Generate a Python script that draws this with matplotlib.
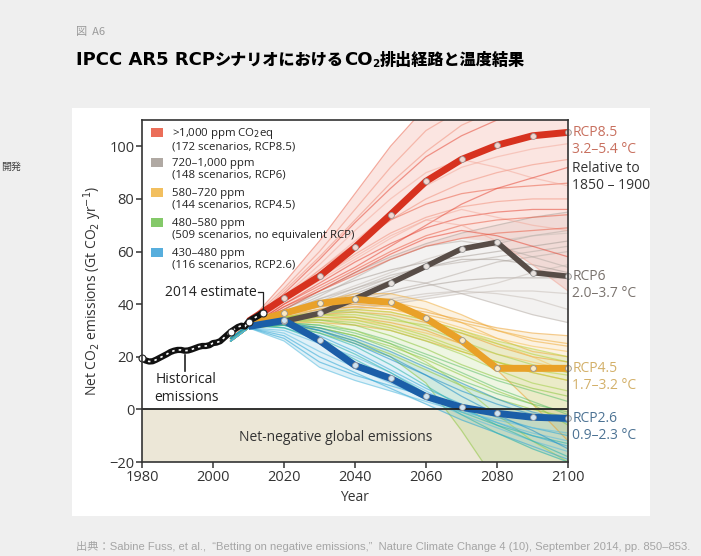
import matplotlib.pyplot as plt
from matplotlib.patches import Rectangle
import numpy as np

plt.rcParams['font.family'] = ['Open Sans', 'Noto Sans CJK JP', 'DejaVu Sans']

# historical emissions (Gt CO2 / yr)
hist_years = list(range(1980, 2015))
hist_values = [19.4, 18.6, 18.2, 18.3, 18.9, 19.6, 20.3, 21.0, 21.8, 22.3,
               22.6, 22.6, 22.3, 22.4, 22.8, 23.3, 23.8, 24.1, 24.1, 24.4,
               25.2, 25.4, 25.9, 27.1, 28.3, 29.5, 30.4, 31.3, 31.8, 31.5,
               33.3, 34.3, 35.0, 35.8, 36.8]
hist_marks = [1980, 2005, 2010, 2014]

# RCP pathways
rcp_years = [2010, 2020, 2030, 2040, 2050, 2060, 2070, 2080, 2090, 2100]
rcp85 = [33.5, 42.2, 50.6, 61.6, 74.0, 86.7, 95.0, 100.4, 104.0, 105.3]
rcp6 = [32.5, 33.5, 36.5, 42.0, 48.0, 54.4, 61.0, 63.5, 52.0, 50.6]
rcp45 = [33.0, 36.5, 40.3, 41.8, 40.7, 34.6, 26.2, 15.6, 15.6, 15.6]
rcp26 = [31.5, 33.8, 26.2, 16.7, 11.8, 4.9, 0.8, -1.5, -3.0, -3.4]

# individual scenarios per concentration category
scen_years = [2005, 2010, 2020, 2030, 2040, 2050, 2060, 2070, 2080, 2090, 2100]
scen_red = [
    [28, 33, 48, 64, 82, 100, 115, 125, 130, 133, 135],
    [28, 33, 46, 60, 76, 92, 106, 114, 118, 120, 121],
    [27, 32, 44, 57, 71, 84, 96, 104, 110, 112, 113],
    [27, 32, 43, 53, 64, 75, 85, 92, 96, 99, 101],
    [27, 32, 42, 52, 62, 72, 78, 82, 84, 85, 86],
    [26, 31, 41, 50, 59, 67, 73, 77, 79, 80, 80],
    [26, 31, 40, 48, 56, 63, 69, 73, 75, 76, 76],
    [27, 32, 41, 49, 57, 65, 72, 76, 73, 70, 68],
    [26, 31, 39, 46, 53, 60, 66, 70, 72, 73, 74],
    [27, 32, 42, 53, 63, 72, 80, 86, 90, 93, 95],
    [26, 31, 39, 45, 52, 59, 65, 68, 66, 62, 58],
    [27, 32, 43, 55, 68, 80, 90, 95, 92, 88, 85],
    [26, 31, 38, 45, 51, 57, 62, 65, 67, 68, 69],
    [27, 32, 45, 58, 72, 86, 98, 108, 114, 118, 120],
    [26, 31, 40, 47, 54, 62, 70, 78, 84, 88, 92],
    [27, 32, 41, 50, 58, 66, 72, 70, 64, 55, 45],
]
scen_gray = [
    [27, 32, 36, 40, 45, 50, 55, 60, 63, 66, 68],
    [27, 32, 37, 42, 47, 52, 57, 61, 64, 66, 67],
    [27, 32, 35, 38, 41, 44, 47, 49, 50, 50, 50],
    [27, 32, 37, 43, 50, 57, 62, 64, 62, 58, 54],
    [26, 31, 34, 36, 38, 40, 42, 44, 45, 45, 44],
    [27, 32, 38, 45, 52, 58, 63, 67, 70, 73, 75],
    [27, 32, 36, 39, 42, 45, 48, 52, 56, 58, 60],
    [26, 31, 34, 37, 39, 41, 43, 45, 48, 52, 55],
    [27, 32, 36, 40, 44, 49, 54, 57, 57, 55, 52],
    [27, 32, 37, 41, 46, 51, 54, 56, 58, 60, 62],
    [26, 31, 35, 37, 40, 42, 44, 45, 44, 42, 38],
    [27, 32, 38, 44, 49, 53, 56, 58, 60, 62, 64],
    [27, 32, 37, 42, 46, 50, 48, 44, 40, 36, 33],
]
scen_orange = [
    [27, 32, 36, 40, 42, 41, 38, 33, 27, 22, 20],
    [27, 32, 35, 38, 39, 38, 35, 31, 27, 24, 22],
    [26, 31, 34, 36, 37, 36, 33, 29, 24, 20, 18],
    [27, 32, 37, 41, 44, 44, 41, 36, 30, 26, 24],
    [26, 31, 33, 34, 34, 32, 29, 25, 21, 18, 15],
    [27, 32, 36, 39, 40, 39, 37, 34, 31, 29, 28],
    [26, 31, 33, 33, 32, 30, 26, 22, 18, 14, 11],
    [27, 32, 35, 37, 38, 37, 34, 30, 25, 20, 14],
    [26, 31, 34, 35, 35, 33, 30, 25, 15, 2, -12],
    [27, 32, 36, 38, 39, 38, 36, 33, 30, 27, 25],
]
scen_green = [
    [27, 32, 34, 34, 32, 28, 23, 17, 12, 8, 5],
    [27, 32, 35, 36, 35, 32, 28, 23, 18, 14, 11],
    [26, 31, 33, 31, 28, 23, 17, 11, 6, 2, -1],
    [27, 32, 35, 37, 37, 35, 31, 26, 21, 17, 14],
    [26, 31, 32, 30, 26, 21, 15, 9, 4, 0, -3],
    [27, 32, 34, 35, 34, 31, 27, 22, 18, 15, 13],
    [26, 31, 33, 32, 30, 26, 21, 16, 11, 7, 3],
    [27, 32, 34, 33, 30, 25, 18, 9, -2, -12, -20],
    [26, 31, 32, 29, 25, 20, 10, -8, -28, -40, -50],
    [27, 32, 35, 36, 36, 34, 32, 29, 25, 21, 18],
    [26, 31, 33, 32, 29, 25, 20, 14, 8, 3, -2],
    [27, 32, 34, 34, 33, 30, 26, 21, 15, 10, 7],
    [26, 31, 32, 31, 28, 24, 19, 13, 7, 2, -6],
    [27, 32, 35, 37, 38, 37, 34, 30, 26, 23, 20],
]
scen_blue = [
    [27, 32, 32, 28, 22, 15, 8, 2, -3, -7, -10],
    [27, 32, 31, 26, 19, 12, 5, -1, -6, -10, -13],
    [26, 31, 29, 22, 16, 10, 4, -2, -7, -12, -16],
    [27, 32, 33, 30, 25, 19, 13, 7, 2, -2, -5],
    [26, 31, 27, 18, 13, 9, 5, 0, -5, -10, -14],
    [27, 32, 32, 29, 24, 17, 9, 1, -6, -12, -18],
    [26, 31, 30, 25, 20, 14, 7, 0, -5, -9, -12],
    [27, 32, 33, 31, 27, 22, 16, 10, 4, -1, -4],
    [26, 31, 28, 20, 14, 8, 2, -4, -9, -14, -19],
    [27, 32, 31, 27, 21, 14, 6, -2, -9, -15, -20],
    [26, 31, 26, 16, 11, 7, 3, -1, -4, -7, -9],
    [27, 32, 33, 30, 26, 20, 13, 5, -2, -8, -15],
]

legend_labels = [
    '>1,000 ppm CO$_2$eq\n(172 scenarios, RCP8.5)',
    '720–1,000 ppm\n(148 scenarios, RCP6)',
    '580–720 ppm\n(144 scenarios, RCP4.5)',
    '480–580 ppm\n(509 scenarios, no equivalent RCP)',
    '430–480 ppm\n(116 scenarios, RCP2.6)',
]
rcp_names = ['RCP8.5', 'RCP6', 'RCP4.5', 'RCP2.6']
rcp_temps = ['3.2–5.4 °C', '2.0–3.7 °C', '1.7–3.2 °C', '0.9–2.3 °C']

# title pieces: (text, family, size, subscript?)
LATIN = ['DejaVu Sans']
CJK = ['Noto Sans CJK JP', 'DejaVu Sans']
title_parts = [
    ('IPCC AR5 RCP', LATIN, 13, False),
    ('シナリオにおける', CJK, 11.6, False),
    ('CO', LATIN, 13, False),
    ('2', LATIN, 7.5, True),
    ('排出経路と温度結果', CJK, 11.6, False),
]

fig = plt.figure(figsize=(7.01, 5.56), dpi=100, facecolor='#efefef')

# white panel behind the chart
fig.patches.append(Rectangle((72 / 701, 1 - 516 / 556), 578 / 701, 408 / 556,
                             transform=fig.transFigure, facecolor='white',
                             edgecolor='none', zorder=0))

fig.text(76 / 701, 1 - 32 / 556, '図  A6', fontsize=8, color='#9a9a9a',
         va='center', family=CJK)

renderer = fig.canvas.get_renderer()
x_px = 76
for txt, fam, size, sub in title_parts:
    y_px = 64 if sub else 60
    t = fig.text(x_px / 701, 1 - y_px / 556, txt, fontsize=size,
                 fontweight='heavy', color='black', va='center', family=fam)
    x_px += t.get_window_extent(renderer).width

fig.text(1 / 701, 1 - 167 / 556, '開発', fontsize=7.2, color='#444444',
         ha='left', va='center', family=['Noto Sans CJK JP'])
fig.text(76 / 701, 1 - 547 / 556,
         '出典：Sabine Fuss, et al.,  “Betting on negative emissions,”  '
         'Nature Climate Change 4 (10), September 2014, pp. 850–853.',
         fontsize=8.1, color='#a5a5a5', va='center',
         family=['Liberation Sans', 'Noto Sans CJK JP'])

ax = fig.add_axes([142 / 701, 1 - 462 / 556, 426 / 701, 342 / 556])
ax.set_zorder(2)
ax.set_facecolor('white')
ax.set_xlim(1980, 2100)
ax.set_ylim(-20, 110)

# net-negative zone
ax.axhspan(-20, 0, color='#ece7d7', zorder=0)
ax.axhline(0, color='#222222', lw=1.3, zorder=6)
ax.text(2034.5, -10.5, 'Net-negative global emissions', ha='center',
        va='center', fontsize=10, color='#333333', zorder=7)

fans = [
    (scen_gray, ['#b3aaa3', '#c4bbb4', '#a39a93'], 0.5),
    (scen_red, ['#e8553c', '#f08a75', '#e43c2a', '#f3a798'], 0.5),
    (scen_orange, ['#f0ad3c', '#f5c258', '#eca02e'], 0.55),
    (scen_green, ['#8dc63f', '#b6d23c', '#5fbf6a', '#a3cf4a'], 0.55),
    (scen_blue, ['#2fa7d6', '#28b3a9', '#5bbde0', '#1f8fc8'], 0.55),
]
for rows, colors, alpha in fans:
    arr = np.array(rows, dtype=float)
    ax.fill_between(scen_years, arr.min(axis=0), arr.max(axis=0),
                    color=colors[0], alpha=0.15, lw=0, zorder=1)
    for i, row in enumerate(rows):
        ax.plot(scen_years, row, color=colors[i % len(colors)], lw=0.9,
                alpha=alpha, zorder=2)

# historical emissions as a chain
ax.plot(hist_years, hist_values, color='#111111', lw=4.5,
        solid_capstyle='round', zorder=8)
ax.plot(hist_years, hist_values, color='white', lw=1.2,
        dashes=(1.5, 2.5), zorder=9)
mark_vals = [hist_values[hist_years.index(y)] for y in hist_marks]
ax.plot(hist_marks, mark_vals, 'o', ms=5, mfc='white', mec='#222222',
        mew=0.8, zorder=10, clip_on=False)

# RCP pathways
rcp_styles = [
    (rcp85, '#d7321f', '#f4d6cf', '#c8705f', 5),
    (rcp6, '#584d47', '#e8e2de', '#7a736e', 4),
    (rcp45, '#e9a128', '#fbe9c2', '#d3b069', 5),
    (rcp26, '#1b5ea8', '#cfe4f4', '#4d7394', 5),
]
for (vals, col, mfc, tcol, lw), name, temp in zip(rcp_styles, rcp_names, rcp_temps):
    ax.plot(rcp_years, vals, color=col, lw=lw, solid_capstyle='butt', zorder=5)
    ax.plot(rcp_years[1:], vals[1:], 'o', ms=4.2, mfc=mfc, mec='#999999',
            mew=0.6, zorder=6, clip_on=False)
    ax.annotate(name, (rcp_years[-1], vals[-1]), xytext=(3, 0),
                textcoords='offset points', va='center', fontsize=10,
                color=tcol, annotation_clip=False)
    ax.annotate(temp, (rcp_years[-1], vals[-1]), xytext=(3, -12.5),
                textcoords='offset points', va='center', fontsize=10,
                color=tcol, annotation_clip=False)
ax.annotate('Relative to', (rcp_years[-1], rcp85[-1]), xytext=(3, -26),
            textcoords='offset points', va='center', fontsize=10,
            color='#333333', annotation_clip=False)
ax.annotate('1850 – 1900', (rcp_years[-1], rcp85[-1]), xytext=(3, -38.5),
            textcoords='offset points', va='center', fontsize=10,
            color='#333333', annotation_clip=False)

# callouts
est = hist_values[-1]
ax.text(2012.3, 44.5, '2014 estimate', ha='right', va='center',
        fontsize=10, color='#222222', zorder=11)
ax.plot([2012.6, 2014, 2014], [44.5, 44.5, est + 1.2], color='#222222',
        lw=0.9, zorder=11)
ax.plot([1992.2, 1992.2], [hist_values[12] - 1.5, 14.5], color='#222222',
        lw=1.2, zorder=11)
ax.text(1992.4, 7.8, 'Historical\nemissions', ha='center', va='center',
        fontsize=10, color='#222222', linespacing=1.25, zorder=11)

# hand-drawn legend
leg_colors = ['#e8553c', '#a39a93', '#f0b443', '#6fc04f', '#3aa0d8']
leg_y = [0.943, 0.855, 0.768, 0.680, 0.592]
for lab, c, y in zip(legend_labels, leg_colors, leg_y):
    ax.add_patch(Rectangle((0.021, y + 0.008), 0.028, 0.026, facecolor=c,
                           edgecolor='none', alpha=0.85,
                           transform=ax.transAxes, zorder=12))
    ax.text(0.07, y, lab, transform=ax.transAxes, fontsize=8.2,
            color='#222222', va='center', linespacing=1.1, zorder=12)

ax.set_xticks(range(1980, 2101, 20))
ax.set_yticks(range(-20, 101, 20))
ax.tick_params(direction='out', length=4, width=1.1, color='#333333',
               labelsize=10.5, labelcolor='#333333', pad=1.5)
for s in ax.spines.values():
    s.set_color('#333333')
    s.set_linewidth(1.2)
    s.set_zorder(13)
ax.set_xlabel('Year', fontsize=10, color='#333333', labelpad=4)
ax.set_ylabel('Net CO$_2$ emissions (Gt CO$_2$ yr$^{-1}$)', fontsize=10,
              color='#333333', labelpad=4)

fig.savefig('out.png', dpi=100, facecolor=fig.get_facecolor())
